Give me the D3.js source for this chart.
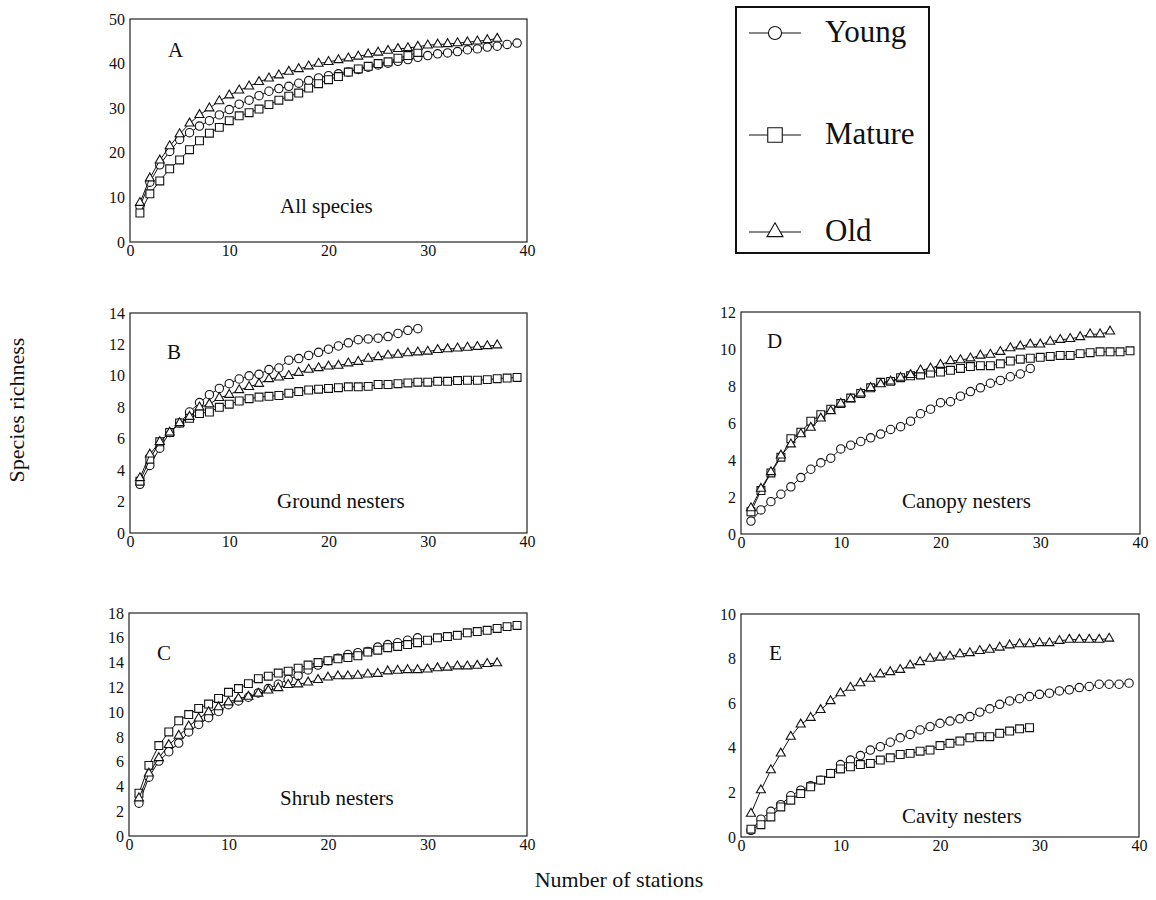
<!DOCTYPE html>
<html lang="en">
<head>
<meta charset="UTF-8">
<title>Species richness accumulation curves</title>
<script src="https://d3js.org/d3.v7.min.js"></script>
<style>
  body { margin: 0; background: #fff; }
  svg text { font-family: "Liberation Serif", "Times New Roman", serif; fill: #111; }
  .frame { fill: none; stroke: #222; stroke-width: 1.2px; }
  .curve { fill: none; stroke: #111; stroke-width: 1px; }
  .marker { fill: #fff; stroke: #111; stroke-width: 1.1px; }
  .panel-letter { font-size: 21px; }
  .panel-title { font-size: 21px; }
  .axis-title { font-size: 22px; }
  .legend-box { fill: #fff; stroke: #111; stroke-width: 2px; }
  .legend-label { font-size: 31px; }
</style>
</head>
<body>
<svg id="chart" width="1156" height="900"></svg>
<script>
// series names and panel texts
const groups = ["Young", "Mature", "Old"];
const panelLetters = ["A", "B", "C", "D", "E"];
const panelTitles = ["All species", "Ground nesters", "Shrub nesters", "Canopy nesters", "Cavity nesters"];
const xTicks = [0, 10, 20, 30, 40];
const yMax = [50, 14, 18, 12, 10];
const yStep = [10, 2, 2, 2, 2];

// A - all species (value at station 1, 2, 3 ...)
const aYoung = [8.0, 13.4, 17.3, 20.3, 23.0, 24.5, 26.0, 27.2, 28.5, 29.7, 30.9, 31.8, 32.8, 33.8, 34.4, 34.9, 35.6, 36.2, 36.8, 37.3, 37.7, 38.1, 38.7, 39.2, 39.7, 40.1, 40.5, 40.9, 41.4, 41.8, 42.2, 42.4, 42.7, 43.1, 43.3, 43.7, 43.9, 44.3, 44.6];
const aMature = [6.5, 10.8, 13.7, 16.4, 18.4, 20.7, 22.7, 24.4, 25.7, 27.2, 28.3, 29.0, 29.8, 30.8, 31.8, 32.7, 33.4, 34.5, 35.5, 36.4, 37.1, 38.1, 38.8, 39.4, 40.0, 40.4, 41.2, 41.8, 42.5];
const aOld = [8.8, 14.3, 18.3, 21.5, 24.2, 26.6, 28.5, 30.0, 31.6, 32.9, 34.0, 34.9, 35.9, 36.7, 37.4, 38.2, 38.8, 39.4, 40.0, 40.4, 40.8, 41.2, 41.6, 42.1, 42.5, 42.9, 43.3, 43.5, 43.8, 44.1, 44.3, 44.4, 44.6, 44.8, 45.0, 45.3, 45.6];

// B - ground nesters
const bYoung = [3.1, 4.3, 5.4, 6.4, 7.0, 7.7, 8.3, 8.8, 9.2, 9.5, 9.8, 10.0, 10.1, 10.4, 10.5, 11.0, 11.1, 11.3, 11.5, 11.7, 11.9, 12.1, 12.3, 12.35, 12.4, 12.5, 12.7, 12.9, 13.0];
const bMature = [3.3, 4.7, 5.8, 6.4, 7.0, 7.3, 7.6, 7.7, 8.0, 8.2, 8.4, 8.55, 8.65, 8.7, 8.75, 8.9, 9.0, 9.1, 9.15, 9.2, 9.25, 9.3, 9.3, 9.33, 9.45, 9.45, 9.5, 9.55, 9.6, 9.6, 9.65, 9.65, 9.7, 9.72, 9.72, 9.76, 9.82, 9.86, 9.9];
const bOld = [3.5, 5.0, 5.8, 6.4, 7.0, 7.4, 8.0, 8.2, 8.6, 8.8, 9.1, 9.3, 9.5, 9.8, 9.9, 10.0, 10.2, 10.4, 10.5, 10.6, 10.65, 10.8, 10.9, 11.1, 11.2, 11.3, 11.35, 11.45, 11.5, 11.55, 11.65, 11.7, 11.75, 11.8, 11.85, 11.9, 11.95];

// C - shrub nesters
const cYoung = [2.65, 4.75, 6.05, 6.8, 7.5, 8.4, 9.0, 9.55, 10.05, 10.6, 10.9, 11.2, 11.55, 11.9, 12.25, 12.65, 12.95, 13.4, 13.8, 14.15, 14.35, 14.65, 14.8, 14.9, 15.25, 15.45, 15.6, 15.8, 16.0];
const cMature = [3.45, 5.7, 7.3, 8.4, 9.3, 9.8, 10.3, 10.65, 11.1, 11.6, 11.9, 12.3, 12.7, 12.9, 13.15, 13.3, 13.55, 13.8, 14.0, 14.15, 14.3, 14.4, 14.55, 14.85, 15.0, 15.2, 15.3, 15.45, 15.6, 15.8, 16.0, 16.1, 16.2, 16.4, 16.5, 16.6, 16.75, 16.9, 17.0];
const cOld = [3.05, 5.05, 6.3, 7.35, 8.1, 8.85, 9.5, 10.0, 10.4, 10.8, 11.1, 11.25, 11.5, 11.75, 11.95, 12.2, 12.25, 12.4, 12.6, 12.8, 12.9, 12.9, 12.95, 13.05, 13.1, 13.3, 13.35, 13.4, 13.4, 13.45, 13.55, 13.6, 13.7, 13.7, 13.75, 13.9, 13.95];

// D - canopy nesters
const dYoung = [0.7, 1.3, 1.75, 2.15, 2.55, 3.05, 3.5, 3.85, 4.1, 4.6, 4.8, 5.0, 5.2, 5.4, 5.65, 5.8, 6.1, 6.5, 6.75, 7.1, 7.15, 7.45, 7.7, 7.9, 8.15, 8.3, 8.5, 8.65, 8.95];
const dMature = [1.2, 2.35, 3.3, 4.15, 5.15, 5.5, 6.1, 6.45, 6.75, 7.05, 7.35, 7.6, 7.9, 8.2, 8.25, 8.45, 8.55, 8.6, 8.7, 8.75, 8.85, 8.95, 9.05, 9.1, 9.1, 9.2, 9.35, 9.45, 9.5, 9.55, 9.6, 9.65, 9.65, 9.75, 9.8, 9.85, 9.85, 9.85, 9.9];
const dOld = [1.4, 2.45, 3.35, 4.25, 4.85, 5.4, 5.75, 6.25, 6.65, 7.05, 7.3, 7.6, 7.9, 8.1, 8.25, 8.45, 8.6, 8.85, 8.95, 9.15, 9.35, 9.4, 9.5, 9.65, 9.7, 9.85, 10.05, 10.15, 10.25, 10.25, 10.4, 10.5, 10.55, 10.65, 10.8, 10.8, 10.95];

// E - cavity nesters
const eYoung = [0.3, 0.8, 1.15, 1.45, 1.85, 2.1, 2.3, 2.55, 2.85, 3.25, 3.45, 3.65, 3.9, 4.05, 4.25, 4.45, 4.6, 4.8, 4.95, 5.1, 5.2, 5.3, 5.4, 5.6, 5.75, 5.95, 6.1, 6.2, 6.3, 6.4, 6.45, 6.55, 6.6, 6.7, 6.75, 6.85, 6.85, 6.85, 6.9];
const eMature = [0.35, 0.55, 0.9, 1.35, 1.65, 1.95, 2.25, 2.55, 2.85, 3.05, 3.15, 3.25, 3.3, 3.45, 3.55, 3.7, 3.75, 3.85, 3.9, 4.1, 4.2, 4.3, 4.45, 4.5, 4.5, 4.65, 4.75, 4.85, 4.9];
const eOld = [1.05, 2.1, 3.0, 3.75, 4.5, 5.05, 5.35, 5.7, 6.1, 6.45, 6.7, 6.9, 7.1, 7.3, 7.4, 7.5, 7.7, 7.85, 8.0, 8.05, 8.1, 8.2, 8.25, 8.35, 8.4, 8.5, 8.6, 8.65, 8.65, 8.7, 8.7, 8.8, 8.85, 8.85, 8.85, 8.85, 8.9];

const panelSeries = [
  [aYoung, aMature, aOld],
  [bYoung, bMature, bOld],
  [cYoung, cMature, cOld],
  [dYoung, dMature, dOld],
  [eYoung, eMature, eOld]
];

// where each panel sits on the page
const layout = [
  { left: 130, right: 527, top: 19, bottom: 242, letter: [168, 57], title: [280, 213] },
  { left: 130, right: 527, top: 313, bottom: 533, letter: [167, 359], title: [277, 508] },
  { left: 129, right: 527, top: 613, bottom: 836, letter: [157, 660], title: [280, 805] },
  { left: 741, right: 1140, top: 312, bottom: 534, letter: [767, 348], title: [902, 508] },
  { left: 741, right: 1139, top: 614, bottom: 837, letter: [769, 660], title: [902, 823] }
];

const symbolTypes = [d3.symbolCircle, d3.symbolSquare, d3.symbolTriangle];
const symbolSizes = [55, 62, 36];

const svg = d3.select("#chart");

layout.forEach((L, i) => {
  const x = d3.scaleLinear().domain([0, 40]).range([L.left, L.right]);
  const y = d3.scaleLinear().domain([0, yMax[i]]).range([L.bottom, L.top]);
  const g = svg.append("g").attr("class", "panel");

  // x labels (no tick marks)
  const gx = g.append("g")
      .attr("transform", "translate(0," + L.bottom + ")")
      .call(d3.axisBottom(x).tickValues(xTicks).tickSize(0).tickPadding(3));
  gx.select(".domain").remove();

  const yt = d3.range(0, yMax[i] + 0.001, yStep[i]);
  const gy = g.append("g")
      .attr("transform", "translate(" + L.left + ",0)")
      .call(d3.axisLeft(y).tickValues(yt).tickSize(0).tickPadding(5));
  gy.select(".domain").remove();

  g.selectAll(".tick text")
      .attr("fill", "#111")
      .style("font-family", "'Liberation Serif', 'Times New Roman', serif")
      .style("font-size", "16px");

  // frame
  g.append("rect")
      .attr("class", "frame")
      .attr("x", L.left)
      .attr("y", L.top)
      .attr("width", L.right - L.left)
      .attr("height", L.bottom - L.top);

  const line = d3.line()
      .x((d, j) => x(j + 1))
      .y(d => y(d));

  panelSeries[i].forEach((vals, s) => {
    g.append("path")
        .datum(vals)
        .attr("class", "curve")
        .attr("d", line);

    g.selectAll(".m" + s)
        .data(vals)
      .enter().append("path")
        .attr("class", "marker m" + s)
        .attr("transform", (d, j) => "translate(" + x(j + 1) + "," + y(d) + ")")
        .attr("d", d3.symbol().type(symbolTypes[s]).size(symbolSizes[s]));
  });

  g.append("text")
      .attr("class", "panel-letter")
      .attr("x", L.letter[0])
      .attr("y", L.letter[1])
      .text(panelLetters[i]);

  g.append("text")
      .attr("class", "panel-title")
      .attr("x", L.title[0])
      .attr("y", L.title[1])
      .text(panelTitles[i]);
});

// axis titles
svg.append("text")
    .attr("class", "axis-title")
    .attr("transform", "translate(24,410) rotate(-90)")
    .style("text-anchor", "middle")
    .text("Species richness");

svg.append("text")
    .attr("class", "axis-title")
    .attr("x", 619)
    .attr("y", 887)
    .style("text-anchor", "middle")
    .text("Number of stations");

// legend
const legend = svg.append("g").attr("class", "legend");
legend.append("rect")
    .attr("class", "legend-box")
    .attr("x", 736)
    .attr("y", 7)
    .attr("width", 193)
    .attr("height", 246);

const legendRows = [33, 135, 232];
groups.forEach((name, s) => {
  const row = legend.append("g").attr("transform", "translate(0," + legendRows[s] + ")");
  row.append("line")
      .attr("class", "curve")
      .attr("x1", 749).attr("x2", 801)
      .attr("y1", 0).attr("y2", 0);
  row.append("path")
      .attr("class", "marker")
      .attr("transform", "translate(775,0)")
      .attr("d", d3.symbol().type(symbolTypes[s]).size([135, 210, 110][s]));
  row.append("text")
      .attr("class", "legend-label")
      .attr("x", 825)
      .attr("y", 9)
      .text(name);
});
</script>
</body>
</html>
